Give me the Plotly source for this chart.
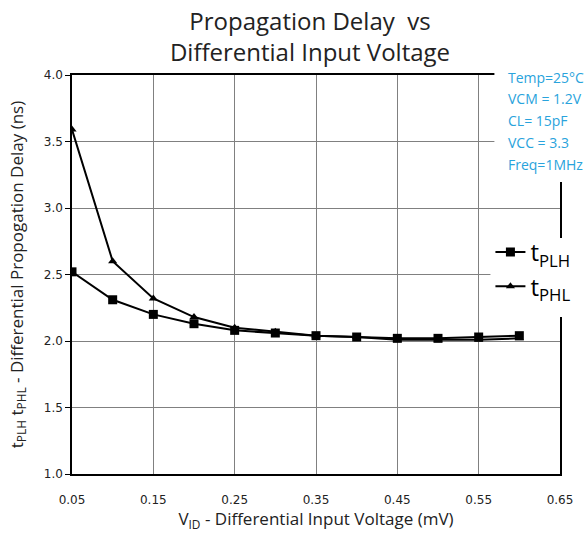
import plotly.graph_objects as go

vid = [0.05, 0.10, 0.15, 0.20, 0.25, 0.30, 0.35, 0.40, 0.45, 0.50, 0.55, 0.60]
t_plh = [2.52, 2.31, 2.20, 2.13, 2.08, 2.06, 2.04, 2.03, 2.02, 2.02, 2.03, 2.04]
t_phl = [3.59, 2.60, 2.32, 2.18, 2.10, 2.07, 2.04, 2.03, 2.01, 2.01, 2.01, 2.02]
x_ticks = [0.05, 0.15, 0.25, 0.35, 0.45, 0.55, 0.65]
y_ticks = [1.0, 1.5, 2.0, 2.5, 3.0, 3.5, 4.0]
conditions = ["Temp=25°C", "VCM = 1.2V", "CL= 15pF", "VCC = 3.3", "Freq=1MHz"]

fig = go.Figure()
fig.add_trace(go.Scatter(x=vid, y=t_plh, mode="lines+markers", name="t<sub>PLH</sub>",
                         line=dict(color="black", width=2),
                         marker=dict(symbol="square", size=9, color="black")))
fig.add_trace(go.Scatter(x=vid, y=t_phl, mode="lines+markers", name="t<sub>PHL</sub>",
                         line=dict(color="black", width=2),
                         marker=dict(symbol="triangle-up", size=8, color="black")))

L, R, T, B = 72, 25, 75, 60
W, H = 588, 534
pw = W - L - R
ph = H - T - B

def px(xp):
    return (xp - L) / pw

def py(yp):
    return 1 - (yp - T) / ph

# white box behind condition text (covers grid/border)
fig.add_shape(type="rect", xref="paper", yref="paper",
              x0=px(497), x1=px(590), y0=py(182), y1=py(70),
              fillcolor="white", line=dict(width=0), layer="above")
# white box behind legend (covers grid/border)
fig.add_shape(type="rect", xref="paper", yref="paper",
              x0=px(493), x1=px(590), y0=py(317), y1=py(238),
              fillcolor="white", line=dict(width=0), layer="above")

for i, txt in enumerate(conditions):
    fig.add_annotation(text=txt, xref="paper", yref="paper",
                       x=px(509), y=py(77 + i * 21.8), xanchor="left", yanchor="middle",
                       showarrow=False, font=dict(family="Open Sans", size=14, color="#29a3dc"))

fig.update_layout(
    width=W, height=H,
    margin=dict(l=L, r=R, t=T, b=B),
    paper_bgcolor="white", plot_bgcolor="white",
    title=dict(text="Propagation Delay  vs<br>Differential Input Voltage",
               x=310 / W, xref="container", xanchor="center",
               y=1 - 30 / H, yref="container", yanchor="middle",
               font=dict(family="Open Sans", size=24, color="#222")),
    legend=dict(x=px(493), y=py(230), xanchor="left", yanchor="top",
                bgcolor="rgba(0,0,0,0)", font=dict(family="Open Sans", size=24, color="black"),
                tracegroupgap=0, itemwidth=30),
    xaxis=dict(range=[0.05, 0.65], tickvals=x_ticks, ticktext=[f"{v:.2f}" for v in x_ticks],
               showgrid=True, gridcolor="#808080", gridwidth=1,
               showline=True, linecolor="black", linewidth=1.5, mirror=True,
               ticks="", ticklabelstandoff=14,
               tickfont=dict(family="DejaVu Sans", size=12, color="#222"),
               title=dict(text="V<sub>ID</sub> - Differential Input Voltage (mV)",
                          font=dict(family="Open Sans", size=17, color="#222"), standoff=4),
               zeroline=False),
    yaxis=dict(range=[1.0, 4.0], tickvals=y_ticks, ticktext=[f"{v:.1f}" for v in y_ticks],
               showgrid=True, gridcolor="#808080", gridwidth=1,
               showline=True, linecolor="black", linewidth=1.5, mirror=True,
               ticks="outside", ticklen=5, tickcolor="black",
               tickfont=dict(family="DejaVu Sans", size=12, color="#222"),
               title=dict(text="t<sub>PLH</sub> t<sub>PHL</sub> - Differential Propogation Delay (ns)",
                          font=dict(family="Open Sans", size=17, color="#222"), standoff=16),
               zeroline=False),
)

fig.write_html("out.html")
